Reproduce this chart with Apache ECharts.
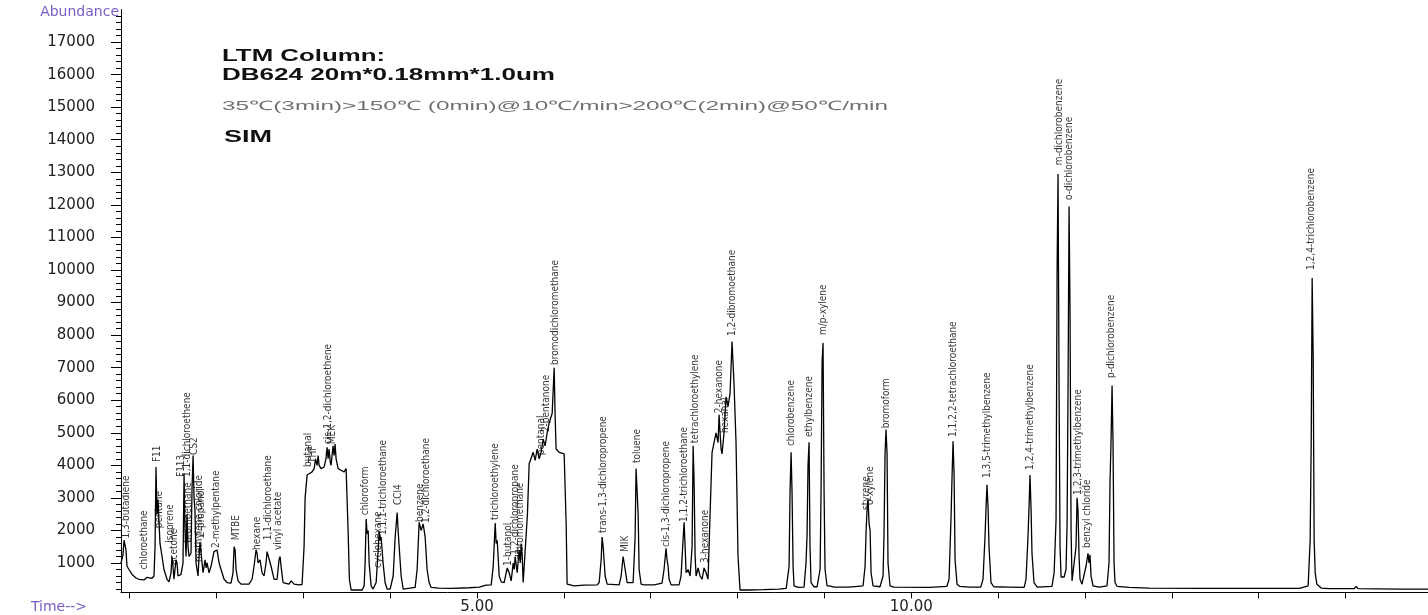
<!DOCTYPE html>
<html>
<head>
<meta charset="utf-8">
<script src="https://cdn.jsdelivr.net/npm/echarts@6/dist/echarts.min.js"></script>
<style>
html,body{margin:0;padding:0;background:#fff;}
#chart{width:1428px;height:615px;}
</style>
</head>
<body>
<div id="chart"></div>
<script>
// ---- data: [retention time (min), abundance] ----
const trace = [
[0.900,1000],[0.923,1250],[0.935,1700],[0.946,1650],[0.957,1400],[0.969,900],[0.992,800],[1.027,650],[1.073,540],[1.107,500],[1.165,480],[1.200,560],[1.222,520],[1.257,530],[1.280,600],[1.292,1500],[1.303,3950],[1.315,2500],[1.326,2950],[1.338,2900],[1.349,1600],[1.361,1400],[1.395,800],[1.430,500],[1.453,420],[1.476,700],[1.487,1200],[1.499,900],[1.510,500],[1.534,1100],[1.545,1000],[1.557,600],[1.591,650],[1.614,1000],[1.626,3750],[1.637,2000],[1.649,1200],[1.660,2500],[1.672,1500],[1.683,1200],[1.706,1300],[1.718,3300],[1.730,4300],[1.741,3000],[1.752,2600],[1.764,1000],[1.787,600],[1.799,1200],[1.810,1650],[1.822,1300],[1.845,700],[1.868,1100],[1.880,850],[1.891,1000],[1.914,700],[1.937,900],[1.971,1350],[2.006,1400],[2.030,1000],[2.052,800],[2.087,500],[2.121,400],[2.167,380],[2.190,700],[2.202,1500],[2.214,1400],[2.225,800],[2.248,450],[2.282,350],[2.374,350],[2.409,500],[2.432,900],[2.455,1400],[2.467,1300],[2.478,1000],[2.501,1100],[2.524,700],[2.547,600],[2.570,1000],[2.582,1350],[2.605,1300],[2.628,900],[2.663,500],[2.697,500],[2.720,1100],[2.732,1200],[2.743,900],[2.766,400],[2.789,350],[2.835,350],[2.860,450],[2.893,350],[2.951,330],[2.985,340],
[3.008,1500],[3.020,3000],[3.043,3700],[3.070,3750],[3.100,3800],[3.124,3900],[3.140,4200],[3.158,4000],[3.170,4300],[3.181,4000],[3.204,3900],[3.239,3950],[3.260,4200],[3.273,4550],[3.285,4200],[3.296,4500],[3.310,4100],[3.319,4000],[3.342,4600],[3.354,4300],[3.365,4650],[3.377,4200],[3.400,3900],[3.434,3850],[3.469,3800],[3.492,3900],[3.515,2000],[3.530,500],[3.550,170],[3.584,170],[3.677,170],
[3.700,300],[3.711,1000],[3.723,2350],[3.734,1900],[3.746,2000],[3.757,1000],[3.780,300],[3.803,200],[3.838,400],[3.861,1400],[3.872,1950],[3.884,1700],[3.895,1800],[3.918,1000],[3.941,400],[3.964,200],[3.999,200],[4.034,600],[4.057,1800],[4.080,2550],[4.091,2000],[4.103,1500],[4.126,600],[4.149,200],[4.287,250],[4.310,800],[4.333,2250],[4.356,2000],[4.379,2200],[4.402,1800],[4.425,800],[4.448,400],[4.471,250],[4.560,230],[4.700,220],[4.910,240],[5.025,260],[5.105,320],[5.163,330],[5.186,900],[5.209,2230],[5.220,1600],[5.232,1700],[5.255,600],[5.278,420],[5.312,400],[5.347,850],[5.370,700],[5.393,450],[5.416,1000],[5.428,800],[5.439,1200],[5.462,700],[5.485,1400],[5.497,1000],[5.508,1600],[5.520,1200],[5.531,400],[5.554,350],[5.580,2500],[5.600,4050],[5.623,4000],[5.646,4400],[5.669,4150],[5.692,4500],[5.715,4200],[5.738,4400],[5.761,4800],[5.784,4600],[5.807,5000],[5.830,5300],[5.865,5600],[5.888,7000],[5.899,5500],[5.910,4500],[5.945,4400],[6.003,4350],[6.026,2200],[6.037,350],[6.060,320],
[6.118,300],[6.233,320],[6.383,330],[6.406,400],[6.429,1100],[6.440,1800],[6.452,1500],[6.475,600],[6.498,350],[6.521,330],[6.636,330],[6.659,600],[6.682,1200],[6.694,1000],[6.705,1050],[6.728,400],[6.751,350],[6.797,400],[6.820,1800],[6.831,3900],[6.843,3200],[6.855,2500],[6.866,800],[6.889,350],[6.923,330],[7.038,330],[7.130,380],[7.153,800],[7.176,1450],[7.188,1100],[7.200,900],[7.211,500],[7.234,330],[7.326,330],[7.349,600],[7.372,1700],[7.384,2250],[7.396,1500],[7.407,700],[7.430,800],[7.453,600],[7.476,1500],[7.488,4600],[7.499,3500],[7.511,1200],[7.522,600],[7.545,850],[7.568,600],[7.591,500],[7.614,850],[7.637,700],[7.660,500],[7.683,2500],[7.706,4400],[7.729,4450],[7.752,5000],[7.775,4700],[7.787,5550],[7.798,5000],[7.810,4500],[7.821,4350],[7.844,5000],[7.867,6100],[7.890,5800],[7.913,6200],[7.936,7800],[7.959,6500],[7.982,4700],[8.005,1200],[8.028,170],[8.051,170],[8.132,170],[8.300,180],[8.477,200],
[8.560,220],[8.593,900],[8.604,3180],[8.616,4400],[8.627,3180],[8.639,900],[8.650,300],[8.700,250],
[8.765,260],[8.788,1000],[8.800,1860],[8.811,4000],[8.823,4710],[8.834,1500],[8.846,400],[8.880,270],
[8.915,270],[8.950,800],[8.961,3150],[8.973,7170],[8.984,7760],[8.996,3150],[9.007,800],[9.030,300],[9.060,300],[9.110,260],[9.283,260],
[9.445,300],[9.468,900],[9.480,2000],[9.491,2650],[9.503,2940],[9.514,2200],[9.526,2000],[9.537,700],[9.560,300],[9.640,270],
[9.675,600],[9.686,1860],[9.698,4370],[9.709,5100],[9.721,4370],[9.732,1000],[9.755,300],[9.800,260],[10.205,250],[10.410,280],
[10.435,500],[10.458,2410],[10.470,3700],[10.481,4740],[10.493,3700],[10.504,1100],[10.527,350],[10.560,280],[10.665,260],[10.800,260],
[10.826,500],[10.849,1800],[10.861,2700],[10.872,3400],[10.884,2700],[10.895,1500],[10.918,400],[10.950,270],[11.125,260],[11.300,250],
[11.321,500],[11.344,1800],[11.356,2700],[11.367,3700],[11.379,2700],[11.390,1300],[11.413,400],[11.450,260],[11.620,280],
[11.645,700],[11.667,2320],[11.679,9950],[11.690,12950],[11.702,6250],[11.713,1500],[11.725,570],[11.760,570],[11.782,800],[11.794,2170],[11.805,6300],[11.817,11950],[11.828,8670],[11.840,2000],[11.851,450],[11.874,400],[11.897,1500],[11.909,3000],[11.920,2600],[11.932,1200],[11.943,500],[11.966,350],[11.989,400],[12.012,900],[12.035,1300],[12.047,1000],[12.058,1250],[12.070,600],[12.093,300],[12.162,260],[12.254,300],[12.277,1000],[12.289,3550],[12.300,4710],[12.312,6450],[12.323,4710],[12.335,1000],[12.346,400],[12.370,280],[12.507,250],[12.740,230],[13.310,220],[14.470,220],
[14.570,300],[14.593,1700],[14.605,4680],[14.616,9750],[14.628,7290],[14.639,1700],[14.651,700],[14.670,350],[14.720,230],[14.810,210],[15.100,210],[15.123,280],[15.146,210],[15.620,200],[15.950,200]
];

const peakNames = ['1,3-butadiene','chloroethane','F11','pentane','isoprene','acetone','F113','1,1-dichloroethene','CS2','bromoethane','2-propanol','methylene chloride','2-methylpentane','MTBE','hexane','1,1-dichloroethane','vinyl acetate','butanal','THF','cis-1,2-dichloroethene','MEK','chloroform','cyclohexane','1,1,1-trichloroethane','CCl4','benzene','1,2-dichloroethane','trichloroethylene','1-butanol','1,2-dichloropropane','dibromomethane','pentanal','2-pentanone','bromodichloromethane','trans-1,3-dichloropropene','MIK','toluene','cis-1,3-dichloropropene','1,1,2-trichloroethane','tetrachloroethylene','3-hexanone','2-hexanone','hexanal','1,2-dibromoethane','chlorobenzene','ethylbenzene','m/p-xylene','styrene','o-xylene','bromoform','1,1,2,2-tetrachloroethane','1,3,5-trimethylbenzene','1,2,4-trimethylbenzene','m-dichlorobenzene','o-dichlorobenzene','1,2,3-trimethylbenzene','benzyl chloride','p-dichlorobenzene','1,2,4-trichlorobenzene'];
const peakTimes = [0.957,1.17,1.315,1.338,1.465,1.52,1.59,1.66,1.74,1.675,1.83,1.80,2.0,2.225,2.47,2.60,2.71,3.055,3.12,3.29,3.34,3.72,3.86,3.92,4.10,4.35,4.415,5.21,5.36,5.44,5.50,5.74,5.80,5.90,6.45,6.71,6.85,7.18,7.385,7.51,7.63,7.79,7.86,7.94,8.62,8.83,8.99,9.485,9.53,9.71,10.49,10.88,11.37,11.70,11.82,11.92,12.03,12.31,14.61];
const peakLabelLevels = [1750,800,4100,2070,1620,940,3640,3640,4320,1620,1800,1030,1460,1700,1400,1700,1400,3950,4070,4650,4650,2470,850,1860,2780,2260,2230,2320,910,1250,1090,4310,5020,7080,1920,1340,4070,1490,2260,4680,1000,5600,4990,7970,4590,4870,8000,2630,2780,5140,4870,3610,3860,13220,12150,3090,1460,6680,10000];

const yTickValues = [1000,2000,3000,4000,5000,6000,7000,8000,9000,10000,11000,12000,13000,14000,15000,16000,17000];
const xTickValues = [1,2,3,4,5,6,7,8,9,10,11,12,13,14,15];
const xLabelValues = [5,10];
const titleTexts = ['LTM Column:', 'DB624 20m*0.18mm*1.0um', '35\u2103(3min)>150\u2103 (0min)@10\u2103/min>200\u2103(2min)@50\u2103/min', 'SIM'];

// ---- presentation ----
const Y_MIN = 100, Y_MAX = 18000, X_MIN = 0.9, X_MAX = 15.95;
const minorTicks = [];
for (let v = 200; v < Y_MAX; v += 200) { if (v % 1000 !== 0) minorTicks.push(v); }

const titleLayout = [
  {x: 222, y: 56, w: 163, font: 'bold 17px "Liberation Sans", Arial, sans-serif', fill: '#111'},
  {x: 222, y: 75, w: 333, font: 'bold 17px "Liberation Sans", Arial, sans-serif', fill: '#111'},
  {x: 222, y: 106, w: 666, font: '13px "Liberation Sans", Arial, sans-serif', fill: '#707070'},
  {x: 224, y: 138, w: 48, font: 'bold 16px "Liberation Sans", Arial, sans-serif', fill: '#111'}
];
const measureCtx = document.createElement('canvas').getContext('2d');
function textWidth(t, f) { measureCtx.font = f; return measureCtx.measureText(t).width; }

const graphics = titleTexts.map((t, i) => {
  const L = titleLayout[i];
  return {
    type: 'text', x: L.x, y: L.y, silent: true,
    scaleX: L.w / textWidth(t, L.font),
    style: {text: t, font: L.font, fill: L.fill, align: 'left', verticalAlign: 'middle'}
  };
});

const chart = echarts.init(document.getElementById('chart'), null, {renderer: 'canvas'});
chart.setOption({
  animation: false,
  backgroundColor: '#ffffff',
  grid: {left: 121, right: 0, top: 9.5, bottom: 22.7, containLabel: false, outerBoundsMode: 'none'},
  xAxis: {
    type: 'value', min: X_MIN, max: X_MAX,
    name: 'Time-->', nameLocation: 'start', nameGap: 34,
    nameTextStyle: {color: '#7a5cc4', fontFamily: 'DejaVu Sans', fontSize: 14, align: 'right', verticalAlign: 'top', padding: [8, 0, 0, 0]},
    axisLine: {show: true, onZero: false, lineStyle: {color: '#000', width: 1}},
    axisTick: {show: true, customValues: xTickValues, length: 6, lineStyle: {color: '#000'}},
    axisLabel: {show: true, customValues: xLabelValues, formatter: v => Number(v).toFixed(2), color: '#222', fontFamily: 'DejaVu Sans', fontSize: 15, margin: 7},
    splitLine: {show: false}
  },
  yAxis: [{
    type: 'value', min: Y_MIN, max: Y_MAX, position: 'left',
    name: 'Abundance', nameLocation: 'end', nameGap: -3,
    nameTextStyle: {color: '#7a5cc4', fontFamily: 'DejaVu Sans', fontSize: 14, align: 'right', verticalAlign: 'middle', padding: [0, 2, 0, 0]},
    axisLine: {show: true, onZero: false, lineStyle: {color: '#000', width: 1}},
    axisTick: {show: true, customValues: yTickValues, length: 10, lineStyle: {color: '#000'}},
    axisLabel: {show: true, customValues: yTickValues, formatter: v => String(Math.round(v)), color: '#222', fontFamily: 'DejaVu Sans', fontSize: 15, margin: 26},
    splitLine: {show: false}
  }, {
    type: 'value', min: Y_MIN, max: Y_MAX, position: 'left', offset: 0,
    axisLine: {show: false},
    axisTick: {show: true, customValues: minorTicks, length: 5, lineStyle: {color: '#000'}},
    axisLabel: {show: false},
    splitLine: {show: false}
  }],
  graphic: graphics,
  series: [{
    type: 'line', name: 'TIC', data: trace, xAxisIndex: 0, yAxisIndex: 0,
    symbol: 'none', showSymbol: false, silent: true,
    lineStyle: {color: '#000', width: 1.3}, z: 2
  }, {
    type: 'scatter', name: 'peaks', xAxisIndex: 0, yAxisIndex: 0, silent: true,
    symbolSize: 1, itemStyle: {color: 'rgba(0,0,0,0)'}, z: 3,
    data: peakNames.map((n, i) => ({name: n, value: [peakTimes[i], peakLabelLevels[i]]})),
    label: {
      show: true, formatter: '{b}', position: 'inside', rotate: 90,
      align: 'left', verticalAlign: 'middle',
      color: '#000', fontFamily: '"Liberation Sans Narrow", "DejaVu Sans Condensed", "Liberation Sans", sans-serif',
      fontSize: 10
    },
    labelLayout: {hideOverlap: false}
  }]
});
</script>
</body>
</html>
